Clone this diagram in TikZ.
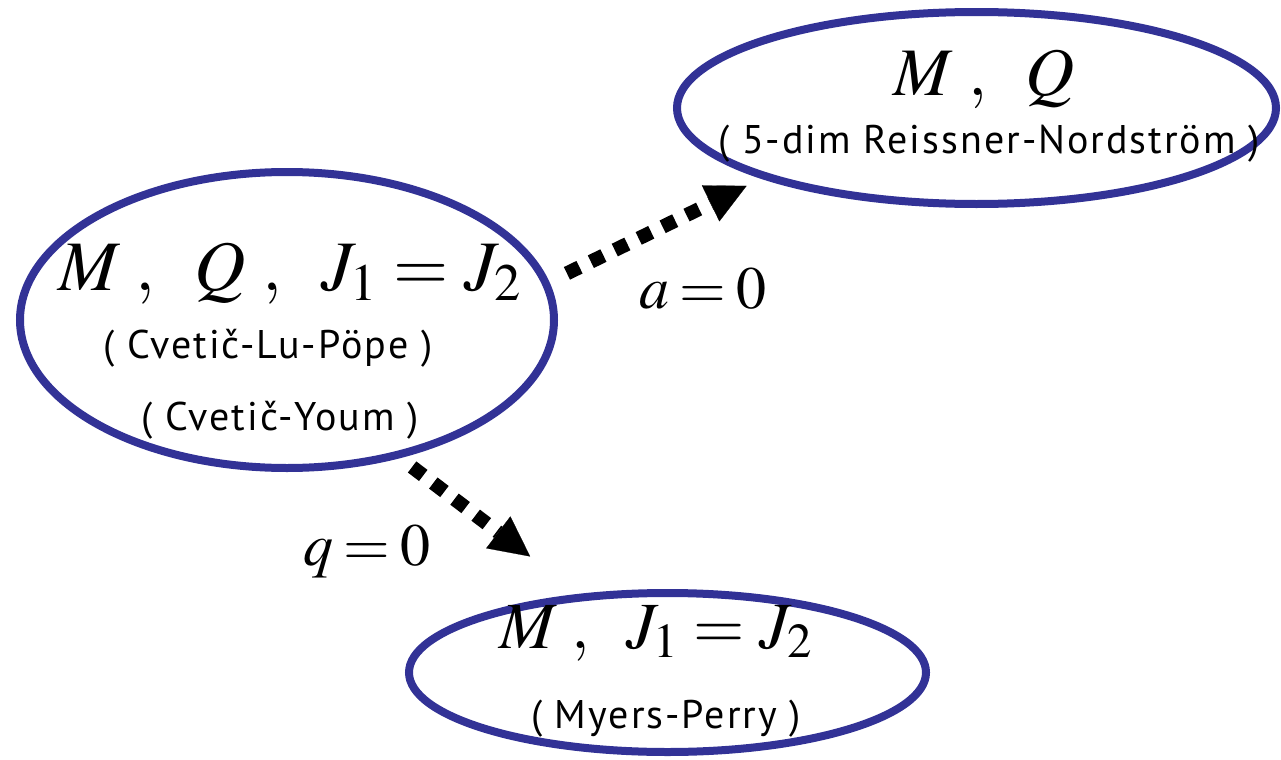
\documentclass[tikz,border=0pt]{standalone}
\usepackage{mathptmx}
\usepackage{fontspec}
\newfontfamily\subfont[LetterSpace=5]{PT Sans}
\usetikzlibrary{shapes.geometric,arrows.meta}
\definecolor{ovalblue}{RGB}{50,50,150}
\newcommand{\tighteq}{\thickmuskip=3mu\relax}
\tikzset{
  oval/.style={ellipse, draw=ovalblue, line width=4pt, inner sep=0pt, outer sep=0pt},
  mathlbl/.style={anchor=base, inner sep=0pt, font=\fontsize{#1}{40}\selectfont},
  mathlbl/.default=35.5,
  edgelbl/.style={anchor=base, inner sep=0pt, font=\fontsize{30}{36}\selectfont},
  sublbl/.style={anchor=base, inner sep=0pt, font=\subfont\fontsize{20}{24}\selectfont},
  conn/.style={line width=7pt, dash pattern=on 7pt off 6.3pt,
    -{Triangle[length=20pt,width=20pt,line width=0.1pt]}},
}
\begin{document}
\begin{tikzpicture}[x=0.5pt,y=-0.5pt]
\useasboundingbox (0,0) rectangle (1281,760);
% ellipses
\node[oval, minimum width=267pt, minimum height=148pt] (A) at (287,320) {};
\node[oval, minimum width=299.5pt, minimum height=96pt] (B) at (976.5,108) {};
\node[oval, minimum width=258.5pt, minimum height=79.5pt] (C) at (667.5,672.5) {};
% texts
\node[mathlbl] (A1) at (290,290) {$M\;,\;\;Q\;,\;\;J_1=J_2$};
\node[sublbl] (A2) at (268,358) {( Cveti\v{c}-Lu-P\"ope )};
\node[sublbl] (A3) at (280,430) {( Cveti\v{c}-Youm )};
\node[mathlbl=34] (B1) at (984,95) {$M\;,\;\;Q$};
\node[sublbl] (B2) at (989,153) {( 5-dim Reissner-Nordstr\"om )};
\node[mathlbl=33] (C1) at (656,648) {$M\;,\;\;J_1=J_2$};
\node[sublbl] (C2) at (666,728) {( Myers-Perry )};
% connectors
\draw[conn, shorten <=11.75pt, shorten >=10.9pt] (A.8.03) -- (B.198.73);
\draw[conn, shorten <=9.9pt, shorten >=33.75pt] (A.-51.8) -- (C.138.75);
\node[edgelbl] (la) at (703,308) {$\tighteq a=0$};
\node[edgelbl] (lq) at (367,565) {$\tighteq q=0$};
\end{tikzpicture}
\end{document}
